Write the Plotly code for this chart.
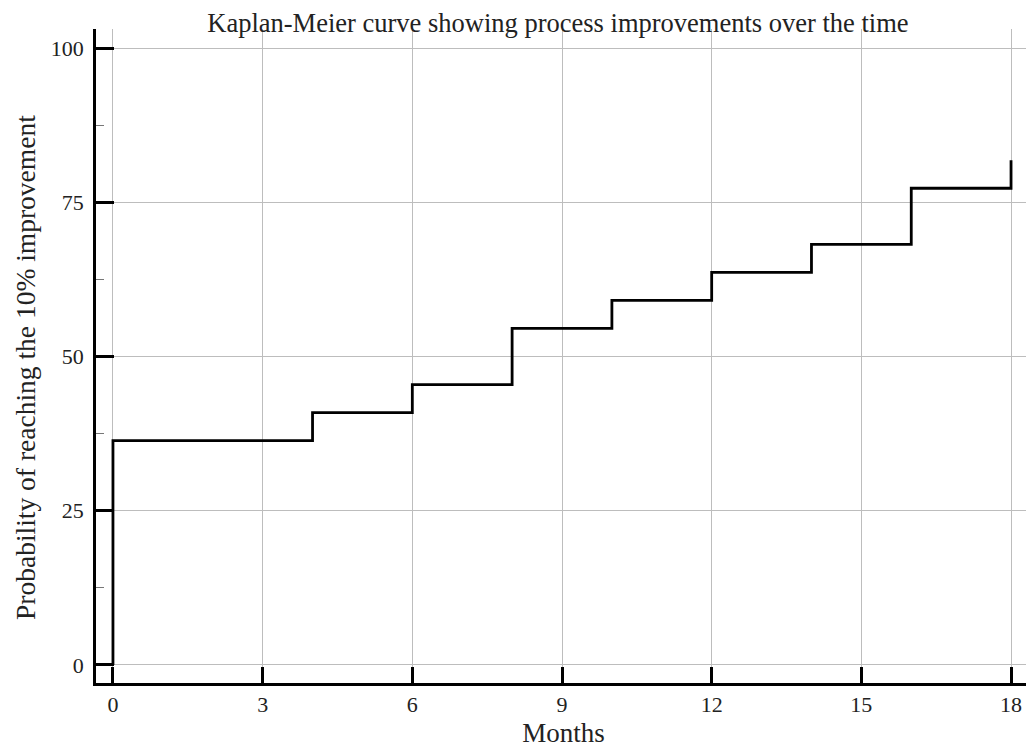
import plotly.graph_objects as go

# Data (step points of the Kaplan-Meier curve)
months = [0, 0, 4, 6, 8, 10, 12, 14, 16, 18]
probability = [0, 36.36, 40.91, 45.45, 54.55, 59.09, 63.64, 68.18, 77.27, 81.82]

x_ticks = [0, 3, 6, 9, 12, 15, 18]
y_ticks = [0, 25, 50, 75, 100]

title_text = "Kaplan-Meier curve showing process improvements over the time"
x_title = "Months"
y_title = "Probability of reaching the 10% improvement"

FONT = "Liberation Serif, Times New Roman, serif"
TXT = "#222222"

# the page body has an 8px margin, so the figure is 8px smaller than the window
W, H = 1026, 740
ML, MR, MT, MB = 88, 3, 21, 65

fig = go.Figure()
fig.add_trace(go.Scatter(
    x=months, y=probability, mode="lines",
    line=dict(shape="hv", color="black", width=2.8),
    showlegend=False, hoverinfo="x+y",
))

fig.update_layout(
    width=W, height=H,
    paper_bgcolor="white", plot_bgcolor="white",
    margin=dict(l=ML, r=MR, t=MT, b=MB),
    font=dict(family=FONT, color=TXT, size=22),
    title=dict(text=title_text, x=0.536, xanchor="center",
               y=1 - 15 / H, yanchor="middle", yref="container",
               font=dict(family=FONT, size=26.5, color=TXT)),
)

# y-axis title placed slightly below the axis centre, as in the reference
plot_h = H - MT - MB
fig.add_annotation(
    text=y_title, textangle=-90, showarrow=False,
    xref="paper", yref="paper", x=0, y=(H - MB - 360) / plot_h,
    xanchor="center", yanchor="middle", xshift=-(ML - 17),
    font=dict(family=FONT, size=27.5, color=TXT),
)

fig.update_xaxes(
    range=[-0.34, 18.4], tickvals=x_ticks, ticktext=[str(v) for v in x_ticks],
    showline=True, linecolor="black", linewidth=2.5,
    ticks="inside", ticklen=16, tickwidth=2.5, tickcolor="black",
    showgrid=True, gridcolor="#bdbdbd", gridwidth=1.3,
    zeroline=False,
    tickfont=dict(family=FONT, size=22, color=TXT),
    ticklabelstandoff=0,
    title=dict(text=x_title, font=dict(family=FONT, size=27, color=TXT), standoff=9),
)

fig.update_yaxes(
    range=[-2.92, 103.08], tickvals=y_ticks, ticktext=[str(v) for v in y_ticks],
    showline=True, linecolor="black", linewidth=2.5,
    ticks="inside", ticklen=18, tickwidth=2.5, tickcolor="black",
    showgrid=True, gridcolor="#bdbdbd", gridwidth=1.3,
    zeroline=False,
    tickfont=dict(family=FONT, size=22, color=TXT),
    ticklabelstandoff=5,
    minor=dict(dtick=12.5, tick0=0, ticks="inside", ticklen=8, tickwidth=1.2,
               tickcolor="#777777", showgrid=False),
)

fig.write_html("out.html")
